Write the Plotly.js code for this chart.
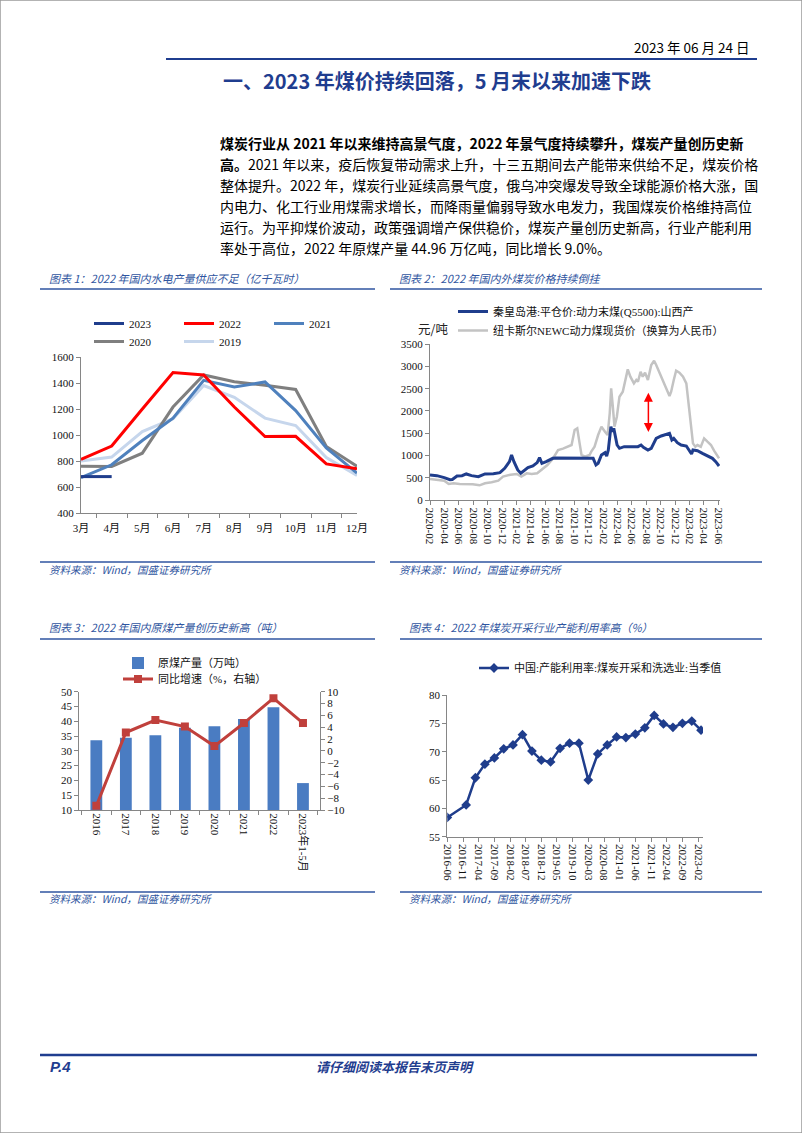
<!DOCTYPE html>
<html><head><meta charset="utf-8">
<script src="https://cdn.plot.ly/plotly-3.0.1.min.js"></script>
<style>html,body{margin:0;padding:0;background:#fff}#page{width:802px;height:1133px}</style>
</head><body><div id="page"></div><script>
// ---------- Chart 1: hydro power output (亿千瓦时) ----------
const months1 = ['3月','4月','5月','6月','7月','8月','9月','10月','11月','12月'];
const hydro2023 = [680, 680];
const hydro2022 = [812, 915, 1200, 1480, 1462, 1215, 988, 990, 778, 740];
const hydro2021 = [672, 771, 958, 1130, 1420, 1370, 1408, 1188, 900, 707];
const hydro2020 = [760, 758, 860, 1215, 1462, 1410, 1383, 1350, 912, 760];
const hydro2019 = [800, 830, 1027, 1125, 1380, 1290, 1130, 1073, 827, 688];

// ---------- Chart 2: coal prices (元/吨) ----------
const qhdDates = ['2020-02-01','2020-03-01','2020-04-01','2020-04-25','2020-05-05','2020-05-25','2020-06-15','2020-07-03','2020-07-25','2020-08-23','2020-09-20','2020-10-25','2020-11-22','2020-12-12','2021-01-01','2021-01-10','2021-01-20','2021-02-05','2021-02-18','2021-03-20','2021-04-10','2021-04-28','2021-05-08','2021-05-18','2021-06-05','2021-07-03','2021-07-17','2021-12-12','2021-12-20','2022-01-01','2022-01-10','2022-01-24','2022-02-08','2022-02-15','2022-02-22','2022-03-05','2022-03-10','2022-03-17','2022-03-24','2022-03-31','2022-04-10','2022-04-30','2022-06-27','2022-07-10','2022-07-20','2022-08-08','2022-08-22','2022-09-12','2022-10-03','2022-10-24','2022-11-07','2022-11-17','2022-11-25','2022-12-10','2022-12-26','2023-01-17','2023-01-30','2023-02-08','2023-02-14','2023-03-05','2023-03-26','2023-04-16','2023-05-07','2023-05-21','2023-06-04'];
const qhdPrice = [567,552,507,460,465,545,552,590,552,530,590,597,620,716,865,1015,865,680,605,731,768,843,955,828,865,940,947,947,940,791,828,1015,1067,992,1126,1649,1537,1611,1425,1238,1164,1201,1201,1238,1186,1126,1164,1387,1440,1477,1500,1350,1387,1291,1238,1216,1112,1037,1126,1112,1052,992,940,865,768];
const newcDates = ['2020-02-01','2020-03-01','2020-04-01','2020-04-20','2020-05-10','2020-06-05','2020-07-03','2020-07-30','2020-08-28','2020-09-20','2020-10-18','2020-11-15','2020-12-05','2021-01-05','2021-02-01','2021-02-20','2021-03-15','2021-04-05','2021-04-28','2021-05-20','2021-06-10','2021-07-03','2021-07-25','2021-08-15','2021-09-05','2021-09-20','2021-10-03','2021-10-14','2021-10-24','2021-11-01','2021-11-15','2021-12-05','2021-12-12','2021-12-26','2022-01-10','2022-01-24','2022-02-08','2022-02-19','2022-02-28','2022-03-06','2022-03-13','2022-03-20','2022-03-30','2022-04-10','2022-04-24','2022-05-04','2022-05-15','2022-05-26','2022-06-10','2022-06-20','2022-06-27','2022-07-08','2022-07-17','2022-07-27','2022-08-08','2022-08-22','2022-09-03','2022-09-12','2022-09-26','2022-10-10','2022-10-24','2022-11-07','2022-11-14','2022-11-25','2022-12-05','2022-12-19','2023-01-03','2023-01-17','2023-01-27','2023-02-05','2023-02-14','2023-02-24','2023-03-05','2023-03-19','2023-04-02','2023-04-16','2023-05-01','2023-05-14','2023-05-28','2023-06-04'];
const newcPrice = [477,462,440,365,380,365,365,358,335,380,403,440,530,574,590,530,604,590,604,694,790,932,1126,1156,1200,1238,1574,1611,1275,1015,977,1015,1089,1201,1462,1649,1537,1462,1947,2507,2096,1649,1872,2320,2432,2693,2932,2768,2618,2693,2656,2880,2768,2857,2693,3029,3126,3029,2842,2656,2507,2335,2432,2693,2902,2857,2768,2618,2096,1649,1275,1201,1238,1201,1387,1313,1238,1112,992,940];
const gapArrowDate = '2022-08-10';
const gapArrowLow = 1530;
const gapArrowHigh = 2440;

// ---------- Chart 3: raw coal output ----------
const years3 = ['2016','2017','2018','2019','2020','2021','2022','2023年1-5月'];
const rawCoal = [33.6, 34.4, 35.3, 37.8, 38.3, 40.8, 44.7, 19.1];
const rawCoalYoY = [-9.3, 3.1, 5.2, 4.1, 0.8, 4.7, 8.9, 4.7];

// ---------- Chart 4: capacity utilisation (%) ----------
const utilDates = ['2016-06-01','2016-12-01','2017-03-01','2017-06-01','2017-09-01','2017-12-01','2018-03-01','2018-06-01','2018-09-01','2018-12-01','2019-03-01','2019-06-01','2019-09-01','2019-12-01','2020-03-01','2020-06-01','2020-09-01','2020-12-01','2021-03-01','2021-06-01','2021-09-01','2021-12-01','2022-03-01','2022-06-01','2022-09-01','2022-12-01','2023-03-01'];
const utilRate = [58.4,60.6,65.4,67.8,68.9,70.5,71.2,73.0,70.1,68.5,68.2,70.6,71.5,71.5,65.0,69.6,71.2,72.6,72.5,73.1,74.2,76.4,74.9,74.3,75.0,75.4,73.8];

// ---------- page helpers ----------
const W = 802, H = 1133;
const X = px => px / W;
const Y = py => 1 - py / H;
const SERIF = 'Liberation Serif, Noto Sans CJK SC, serif';
const SANS = 'Noto Sans CJK SC, Liberation Sans, sans-serif';
const NAVY = '#1f3d8f';
const TBLUE = '#2f55a0';
const AX = '#868686';
const tickFont = {family: SERIF, size: 11, color: '#111'};
const legFont = {family: SERIF, size: 11, color: '#111'};

const traces = [
  {type:'scatter', mode:'lines', name:'2019', x:months1, y:hydro2019, xaxis:'x', yaxis:'y', line:{color:'#c6d6ec', width:3}, legend:'legend2'},
  {type:'scatter', mode:'lines', name:'2020', x:months1, y:hydro2020, xaxis:'x', yaxis:'y', line:{color:'#7f7f7f', width:3}, legend:'legend2'},
  {type:'scatter', mode:'lines', name:'2021', x:months1, y:hydro2021, xaxis:'x', yaxis:'y', line:{color:'#4f81bd', width:3}, legend:'legend'},
  {type:'scatter', mode:'lines', name:'2022', x:months1, y:hydro2022, xaxis:'x', yaxis:'y', line:{color:'#ff0000', width:3}, legend:'legend'},
  {type:'scatter', mode:'lines', name:'2023', x:months1.slice(0, hydro2023.length), y:hydro2023, xaxis:'x', yaxis:'y', line:{color:'#1f3d8c', width:3}, legend:'legend'},

  {type:'scatter', mode:'lines', name:'纽卡斯尔NEWC动力煤现货价（换算为人民币）', x:newcDates, y:newcPrice, xaxis:'x2', yaxis:'y2', line:{color:'#c3c3c3', width:2.5}, legend:'legend3'},
  {type:'scatter', mode:'lines', name:'秦皇岛港:平仓价:动力末煤(Q5500):山西产', x:qhdDates, y:qhdPrice, xaxis:'x2', yaxis:'y2', line:{color:'#1f3d8c', width:3}, legend:'legend3'},

  {type:'bar', name:'原煤产量（万吨）', x:years3, y:rawCoal, xaxis:'x3', yaxis:'y3', marker:{color:'#4a7cc2'}, legend:'legend4'},
  {type:'scatter', mode:'lines+markers', name:'同比增速（%，右轴）', x:years3, y:rawCoalYoY, xaxis:'x3', yaxis:'y4', line:{color:'#c0403c', width:3}, marker:{symbol:'square', size:8, color:'#c0403c'}, legend:'legend6'},

  {type:'scatter', mode:'lines+markers', name:'中国:产能利用率:煤炭开采和洗选业:当季值', x:utilDates, y:utilRate, xaxis:'x4', yaxis:'y5', line:{color:'#1f3d8c', width:2.5}, marker:{symbol:'diamond', size:7.5, color:'#1f3d8c'}, legend:'legend5'}
];

const baseAxis = {showline:true, linecolor:AX, linewidth:1, ticks:'outside', ticklen:4, tickcolor:AX, tickfont:tickFont, showgrid:false, zeroline:false, fixedrange:true};

const ann = (x, y, text, opts) => Object.assign({xref:'paper', yref:'paper', x:X(x), y:Y(y), text:text, showarrow:false, xanchor:'left', yanchor:'middle', font:{family:SANS, size:11, color:'#000'}}, opts || {});

const para = [
  '<b>煤炭行业从 2021 年以来维持高景气度，2022 年景气度持续攀升，煤炭产量创历史新</b>',
  '<b>高。</b>2021 年以来，疫后恢复带动需求上升，十三五期间去产能带来供给不足，煤炭价格',
  '整体提升。2022 年，煤炭行业延续高景气度，俄乌冲突爆发导致全球能源价格大涨，国',
  '内电力、化工行业用煤需求增长，而降雨量偏弱导致水电发力，我国煤炭价格维持高位',
  '运行。为平抑煤价波动，政策强调增产保供稳价，煤炭产量创历史新高，行业产能利用',
  '率处于高位，2022 年原煤产量 44.96 万亿吨，同比增长 9.0%。'
];

const annotations = [
  ann(752, 47, '2023 年 06 月 24 日', {xanchor:'right', font:{family:SANS, size:13.5, color:'#000'}}),
  ann(437, 80, '<b>一、2023 年煤价持续回落，5 月末以来加速下跌</b>', {xanchor:'center', font:{family:SANS, size:20, color:NAVY}}),
  ann(47, 278, '<i>图表 1：2022 年国内水电产量供应不足（亿千瓦时）</i>', {font:{family:SANS, size:11, color:TBLUE}}),
  ann(397, 278, '<i>图表 2：2022 年国内外煤炭价格持续倒挂</i>', {font:{family:SANS, size:11, color:TBLUE}}),
  ann(47, 627, '<i>图表 3：2022 年国内原煤产量创历史新高（吨）</i>', {font:{family:SANS, size:11, color:TBLUE}}),
  ann(407, 627, '<i>图表 4：2022 年煤炭开采行业产能利用率高（%）</i>', {font:{family:SANS, size:11, color:TBLUE}}),
  ann(47, 569, '<i>资料来源：Wind，国盛证券研究所</i>', {font:{family:SANS, size:10.5, color:TBLUE}}),
  ann(397, 569, '<i>资料来源：Wind，国盛证券研究所</i>', {font:{family:SANS, size:10.5, color:TBLUE}}),
  ann(47, 898, '<i>资料来源：Wind，国盛证券研究所</i>', {font:{family:SANS, size:10.5, color:TBLUE}}),
  ann(407, 898, '<i>资料来源：Wind，国盛证券研究所</i>', {font:{family:SANS, size:10.5, color:TBLUE}}),
  ann(416, 328, '元/吨', {font:{family:SANS, size:12.5, color:'#222'}}),
  ann(48, 1066, '<b><i>P.4</i></b>', {font:{family:'Liberation Sans, sans-serif', size:15, color:NAVY}}),
  ann(395, 1066, '<b><i>请仔细阅读本报告末页声明</i></b>', {xanchor:'center', font:{family:SANS, size:13, color:NAVY}}),
  {xref:'x2', yref:'y2', axref:'x2', ayref:'y2', x:gapArrowDate, y:gapArrowLow, ax:gapArrowDate, ay:gapArrowHigh, text:'', showarrow:true, arrowside:'end+start', arrowhead:2, arrowsize:1.2, arrowwidth:1.5, arrowcolor:'#ff0000'}
];
para.forEach((t, i) => annotations.push(ann(218, 143 + i * 21, t, {font:{family:SANS, size:14, color:'#000'}})));

const line = (x0, y0, x1, y1, color, width) => ({type:'line', xref:'paper', yref:'paper', x0:X(x0), y0:Y(y0), x1:X(x1), y1:Y(y1), line:{color:color, width:width}});
const shapes = [
  {type:'rect', xref:'paper', yref:'paper', x0:0, y0:0, x1:1, y1:1, line:{color:'#9a9a9a', width:1.5}},
  line(166, 59, 757, 59, NAVY, 2),
  line(40, 289, 375, 289, TBLUE, 1.3),
  line(390, 289, 762, 289, TBLUE, 1.3),
  line(40, 562, 375, 562, TBLUE, 1.3),
  line(390, 562, 762, 562, TBLUE, 1.3),
  line(40, 639, 375, 639, TBLUE, 1.3),
  line(400, 639, 762, 639, TBLUE, 1.3),
  line(40, 892, 375, 892, TBLUE, 1.3),
  line(400, 892, 762, 892, TBLUE, 1.3),
  line(40, 1055, 757, 1055, NAVY, 2.5)
];

const layout = {
  width: W, height: H,
  margin: {l:0, r:0, t:0, b:0, pad:0},
  paper_bgcolor: '#fff', plot_bgcolor: 'rgba(0,0,0,0)',
  showlegend: true,
  xaxis: Object.assign({}, baseAxis, {domain:[X(81), X(357)], anchor:'y', type:'category', tickson:'boundaries', tickangle:0, ticklabelstandoff:5}),
  yaxis: Object.assign({}, baseAxis, {domain:[Y(513), Y(357)], anchor:'x', range:[400,1600], dtick:200}),
  xaxis2: Object.assign({}, baseAxis, {domain:[X(430), X(720)], anchor:'y2', type:'date', range:['2020-02-01','2023-06-08'], tick0:'2020-02-01', dtick:'M2', tickformat:'%Y-%m', tickangle:90}),
  yaxis2: Object.assign({}, baseAxis, {domain:[Y(500.3), Y(344)], anchor:'x2', range:[0,3500], dtick:500}),
  xaxis3: Object.assign({}, baseAxis, {domain:[X(79.3), X(320)], anchor:'y3', type:'category', tickson:'boundaries', tickangle:90}),
  yaxis3: Object.assign({}, baseAxis, {domain:[Y(810), Y(691.7)], anchor:'x3', range:[10,50], dtick:5}),
  yaxis4: Object.assign({}, baseAxis, {overlaying:'y3', side:'right', anchor:'x3', range:[-10,10], dtick:2}),
  xaxis4: Object.assign({}, baseAxis, {domain:[X(447.3), X(703)], anchor:'y5', type:'date', range:['2016-06-01','2023-03-20'], tick0:'2016-06-01', dtick:'M5', tickformat:'%Y-%m', tickangle:90}),
  yaxis5: Object.assign({}, baseAxis, {domain:[Y(836.7), Y(695)], anchor:'x4', range:[55,80], dtick:5}),
  bargap: 0.6,
  legend:  {x:X(89), y:Y(323.5), xanchor:'left', yanchor:'middle', orientation:'h', entrywidth:45, entrywidthmode:'pixels', traceorder:'reversed', font:legFont, bgcolor:'rgba(0,0,0,0)'},
  legend2: {x:X(89), y:Y(341.5), xanchor:'left', yanchor:'middle', orientation:'h', entrywidth:45, entrywidthmode:'pixels', traceorder:'reversed', font:legFont, bgcolor:'rgba(0,0,0,0)'},
  legend3: {x:X(453), y:Y(297), xanchor:'left', yanchor:'top', orientation:'v', traceorder:'reversed', tracegroupgap:0, font:legFont, bgcolor:'rgba(0,0,0,0)'},
  legend4: {x:X(118), y:Y(663), xanchor:'left', yanchor:'middle', font:legFont, bgcolor:'rgba(0,0,0,0)'},
  legend6: {x:X(118), y:Y(679), xanchor:'left', yanchor:'middle', font:legFont, bgcolor:'rgba(0,0,0,0)'},
  legend5: {x:X(474), y:Y(668), xanchor:'left', yanchor:'middle', font:legFont, bgcolor:'rgba(0,0,0,0)'},
  annotations: annotations,
  shapes: shapes
};

Plotly.newPlot('page', traces, layout, {displayModeBar:false, staticPlot:true});
</script></body></html>
